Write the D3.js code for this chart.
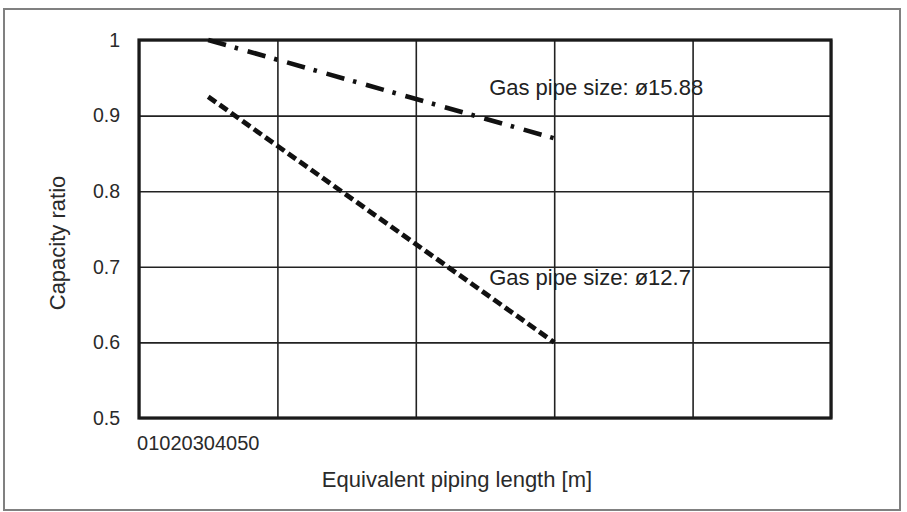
<!DOCTYPE html>
<html>
<head>
<meta charset="utf-8">
<script src="https://cdn.jsdelivr.net/npm/d3@7"></script>
<style>
  body { margin: 0; background: #fff; }
  svg { display: block; font-family: "Liberation Sans", Arial, sans-serif; }
</style>
</head>
<body>
<div id="chart"></div>
<script>
// Tick values of both axes
const xTicks = [0, 10, 20, 30, 40, 50];
const yTicks = [0.5, 0.6, 0.7, 0.8, 0.9, 1];

// Equivalent piping length [m] and capacity ratio per pipe size
const pipeLengths = [5, 30];
const ratio1588 = [1.0, 0.87];
const ratio127 = [0.925, 0.6];
const seriesNames = ["Gas pipe size: ø15.88", "Gas pipe size: ø12.7"];

class CapacityChart {
  constructor(_config) {
    this.config = {
      parentElement: _config.parentElement,
      width: 907,
      height: 512,
      margin: { top: 40, bottom: 94, right: 76, left: 139 },
    };
    this.initVis();
  }

  initVis() {
    const vis = this;
    const cfg = vis.config;
    vis.innerWidth = cfg.width - cfg.margin.left - cfg.margin.right;
    vis.innerHeight = cfg.height - cfg.margin.top - cfg.margin.bottom;

    vis.root = d3
      .select(cfg.parentElement)
      .append("svg")
      .attr("width", cfg.width)
      .attr("height", cfg.height);

    // grey outer border round the whole figure
    vis.root
      .append("rect")
      .attr("x", 4)
      .attr("y", 9)
      .attr("width", 896)
      .attr("height", 501)
      .attr("fill", "none")
      .attr("stroke", "#808080")
      .attr("stroke-width", 2);

    vis.svg = vis.root
      .append("g")
      .attr("transform", `translate(${cfg.margin.left},${cfg.margin.top})`);

    vis.x = d3.scaleLinear().domain([0, 50]).range([0, vis.innerWidth]);
    vis.y = d3.scaleLinear().domain([0.5, 1]).range([vis.innerHeight, 0]);

    vis.updateVis();
  }

  updateVis() {
    const vis = this;

    // vertical grid lines
    vis.svg
      .append("g")
      .attr("transform", `translate(0,${vis.innerHeight})`)
      .call(
        d3
          .axisBottom(vis.x)
          .tickValues(xTicks)
          .tickSize(-vis.innerHeight)
          .tickFormat("")
      )
      .call((g) => g.select(".domain").remove())
      .call((g) =>
        g.selectAll("line").attr("stroke", "#222").attr("stroke-width", 1.6)
      );

    // horizontal grid lines + y tick labels
    vis.svg
      .append("g")
      .call(
        d3
          .axisLeft(vis.y)
          .tickValues(yTicks)
          .tickSize(-vis.innerWidth)
          .tickPadding(19)
          .tickFormat(d3.format("~g"))
      )
      .call((g) => g.select(".domain").remove())
      .call((g) =>
        g.selectAll("line").attr("stroke", "#222").attr("stroke-width", 1.6)
      )
      .call((g) =>
        g
          .selectAll("text")
          .attr("fill", "#2a2a2a")
          .style("font-size", "19.5px")
          .style("font-family", "'Liberation Sans', Arial, sans-serif")
      );

    // heavy frame
    vis.svg
      .append("rect")
      .attr("width", vis.innerWidth)
      .attr("height", vis.innerHeight)
      .attr("fill", "none")
      .attr("stroke", "#1a1a1a")
      .attr("stroke-width", 3.2);

    // x tick labels, all squeezed together at the left like the original
    const xLab = vis.svg
      .append("text")
      .attr("x", -2)
      .attr("y", vis.innerHeight + 32)
      .attr("fill", "#2a2a2a")
      .style("font-size", "20px");
    xLab
      .selectAll("tspan")
      .data(xTicks)
      .join("tspan")
      .text((d) => d);

    const line = d3
      .line()
      .x((d) => vis.x(d[0]))
      .y((d) => vis.y(d[1]));

    vis.svg
      .append("path")
      .datum(d3.zip(pipeLengths, ratio1588))
      .attr("d", line)
      .attr("fill", "none")
      .attr("stroke", "#111")
      .attr("stroke-width", 4.6)
      .attr("stroke-dasharray", "18.5,9,3.5,10");

    vis.svg
      .append("path")
      .datum(d3.zip(pipeLengths, ratio127))
      .attr("d", line)
      .attr("fill", "none")
      .attr("stroke", "#111")
      .attr("stroke-width", 4.8)
      .attr("stroke-dasharray", "9.5,4.5");

    // series annotations
    const labelAt = [
      [25.3, 0.927],
      [25.3, 0.676],
    ];
    vis.svg
      .selectAll("text.series")
      .data(seriesNames)
      .join("text")
      .attr("class", "series")
      .attr("x", (d, i) => vis.x(labelAt[i][0]))
      .attr("y", (d, i) => vis.y(labelAt[i][1]))
      .attr("fill", "#222")
      .style("font-size", "22px")
      .text((d) => d);

    // axis titles
    vis.root
      .append("text")
      .attr("x", 457)
      .attr("y", 487)
      .attr("text-anchor", "middle")
      .attr("fill", "#2a2a2a")
      .style("font-size", "22px")
      .text("Equivalent piping length [m]");

    vis.root
      .append("text")
      .attr("transform", "translate(65,243) rotate(-90)")
      .attr("text-anchor", "middle")
      .attr("fill", "#2a2a2a")
      .style("font-size", "22px")
      .text("Capacity ratio");
  }
}

new CapacityChart({ parentElement: "#chart" });
</script>
</body>
</html>
